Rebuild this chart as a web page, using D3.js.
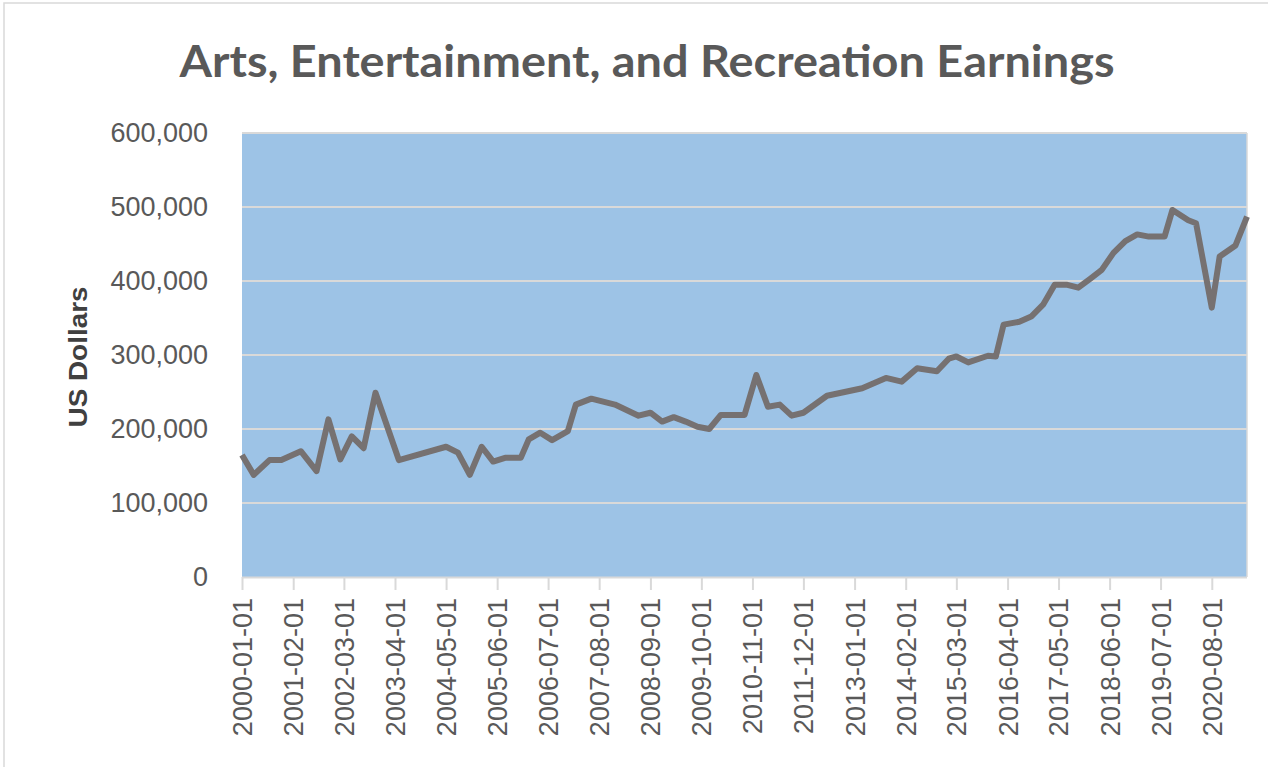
<!DOCTYPE html>
<html>
<head>
<meta charset="utf-8">
<script src="https://cdn.jsdelivr.net/npm/d3@7"></script>
<style>
body { margin: 0; background: #fff; }
svg text { font-family: "Liberation Sans", Arial, sans-serif; }
</style>
</head>
<body>
<svg width="1268" height="767"></svg>
<script>
// values (dollars)
var dates = ["2000-01","2000-04","2000-08","2000-11","2001-04","2001-08","2001-11","2002-02","2002-05","2002-08",
	"2002-11","2003-05","2004-05","2004-08","2004-11","2005-02","2005-05","2005-08","2005-12","2006-02",
	"2006-05","2006-08","2006-12","2007-02","2007-06","2007-12","2008-06","2008-09","2008-12","2009-03",
	"2009-06","2009-09","2009-12","2010-03","2010-09","2010-12","2011-03","2011-06","2011-09","2011-12",
	"2012-06","2013-03","2013-09","2014-01","2014-05","2014-10","2015-01","2015-03","2015-06","2015-11",
	"2016-01","2016-03","2016-07","2016-10","2017-01","2017-04","2017-07","2017-10","2018-01","2018-04",
	"2018-07","2018-10","2019-01","2019-04","2019-08","2019-10","2020-02","2020-04","2020-08","2020-10",
	"2021-02","2021-05"];
var earnings = [165000,138000,158000,158000,170000,143000,213000,159000,190000,174000,
	249000,158000,176000,168000,138000,176000,156000,161000,161000,186000,
	195000,185000,197000,233000,241000,233000,218000,222000,210000,216000,
	210000,203000,200000,219000,219000,273000,230000,233000,218000,222000,
	245000,255000,269000,264000,282000,278000,295000,298000,290000,299000,
	298000,341000,345000,352000,368000,395000,395000,391000,403000,415000,
	438000,454000,463000,460000,460000,496000,482000,478000,364000,433000,
	448000,487000];
var xTickLabels = ["2000-01-01","2001-02-01","2002-03-01","2003-04-01","2004-05-01","2005-06-01","2006-07-01",
	"2007-08-01","2008-09-01","2009-10-01","2010-11-01","2011-12-01","2013-01-01","2014-02-01","2015-03-01",
	"2016-04-01","2017-05-01","2018-06-01","2019-07-01","2020-08-01"];
var yTicks = [0,100000,200000,300000,400000,500000,600000];

var parse = d3.utcParse("%Y-%m");
var parseDay = d3.utcParse("%Y-%m-%d");
var data = dates.map(function(d,i){ return {date: parse(d), value: earnings[i]}; });

var plotLeft = 242, plotRight = 1247, plotTop = 133, plotBottom = 577;
var svg = d3.select("svg");

var x = d3.scaleUtc().domain([parse("2000-01"), parse("2021-05")]).range([plotLeft, plotRight]);
var y = d3.scaleLinear().domain([0, 600000]).range([plotBottom, plotTop]);

// chart border
svg.append("rect").attr("x",4).attr("y",3).attr("width",1300).attr("height",800)
	.style("fill","none").style("stroke","#d9d9d9").style("stroke-width",1.5);

svg.append("text")
	.attr("x", 647).attr("y", 77)
	.attr("text-anchor","middle")
	.attr("textLength", 935).attr("lengthAdjust","spacingAndGlyphs")
	.style("font-family","Lato, 'Open Sans', sans-serif")
	.style("font-weight","bold").style("font-size","44px")
	.style("fill","#595959")
	.text("Arts, Entertainment, and Recreation Earnings");

svg.append("rect")
	.attr("x", plotLeft).attr("y", plotTop)
	.attr("width", plotRight-plotLeft).attr("height", plotBottom-plotTop)
	.style("fill","#9dc3e6");

// gridlines
svg.selectAll(".grid").data(yTicks.filter(function(d){ return d>0; }))
	.enter().append("line")
	.attr("class","grid")
	.attr("x1", plotLeft).attr("x2", plotRight)
	.attr("y1", function(d){ return y(d); })
	.attr("y2", function(d){ return y(d); })
	.style("stroke","#d9d9d9").style("stroke-width",2);

svg.append("line").attr("x1",plotRight).attr("x2",plotRight).attr("y1",plotTop).attr("y2",plotBottom)
	.style("stroke","#d9d9d9").style("stroke-width",1.5);

// y axis
var yAxis = d3.axisLeft(y).tickValues(yTicks).tickSize(0).tickPadding(34)
	.tickFormat(d3.format(","));
var gy = svg.append("g").attr("transform","translate("+plotLeft+",0)").call(yAxis);
gy.select(".domain").remove();
gy.selectAll("text").style("font-size","27px").style("fill","#595959")
	.style("font-family","'Liberation Sans', Arial, sans-serif");

// x axis
var xAxis = d3.axisBottom(x).tickValues(xTickLabels.map(function(d){ return parseDay(d); }))
	.tickSize(13).tickPadding(8).tickFormat(d3.utcFormat("%Y-%m-%d"));
var gx = svg.append("g").attr("transform","translate(0,"+plotBottom+")").call(xAxis);
gx.select(".domain").attr("d","M"+plotLeft+",0.5H"+plotRight).style("stroke","#d9d9d9").style("stroke-width",2);
gx.selectAll(".tick line").style("stroke","#d9d9d9").style("stroke-width",2);
gx.selectAll("text")
	.style("font-size","27px").style("fill","#595959")
	.style("font-family","'Liberation Sans', Arial, sans-serif")
	.attr("text-anchor","end")
	.attr("transform","rotate(-90)")
	.attr("x",-21).attr("y",0).attr("dy","0.35em");

svg.append("text")
	.attr("transform","translate(87,357) rotate(-90)")
	.attr("text-anchor","middle")
	.attr("textLength",141).attr("lengthAdjust","spacingAndGlyphs")
	.style("font-weight","bold").style("font-size","26px").style("fill","#404040")
	.text("US Dollars");

var line = d3.line()
	.x(function(d){ return x(d.date); })
	.y(function(d){ return y(d.value); });

svg.append("path").datum(data)
	.attr("d", line)
	.style("fill","none")
	.style("stroke","#767171")
	.style("stroke-width",6)
	.style("stroke-linejoin","round");
</script>
</body>
</html>
